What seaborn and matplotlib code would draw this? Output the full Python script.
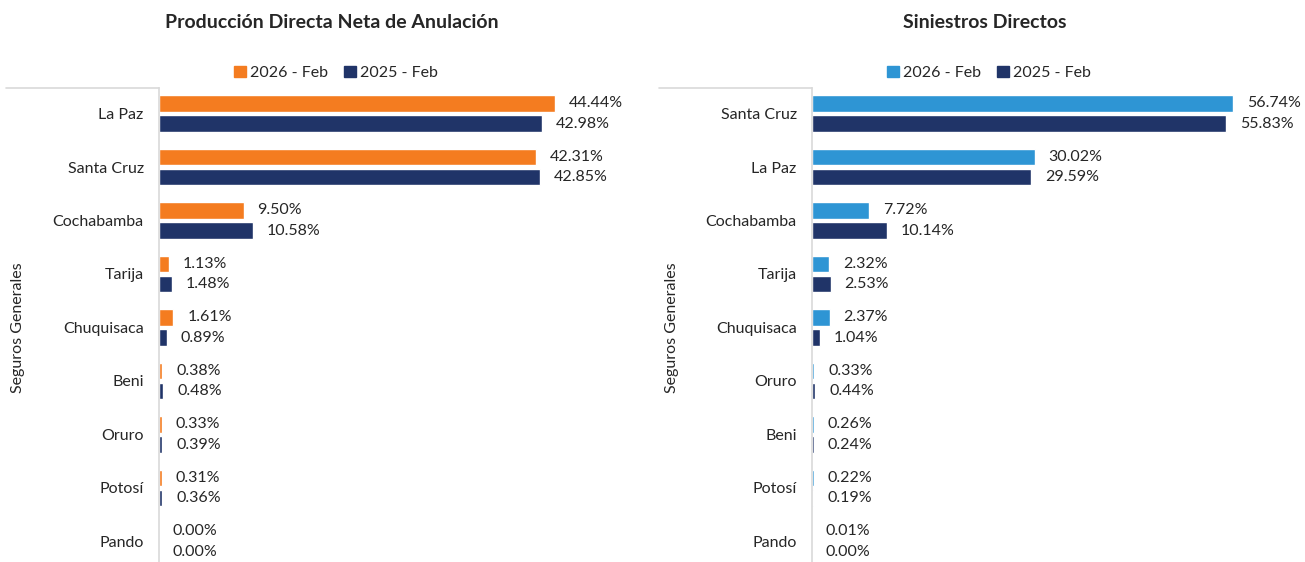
import pandas as pd
import matplotlib.pyplot as plt
import seaborn as sns
from matplotlib.lines import Line2D

# Producción Directa Neta de Anulación
prod_deptos = ["La Paz", "Santa Cruz", "Cochabamba", "Tarija", "Chuquisaca",
               "Beni", "Oruro", "Potosí", "Pando"]
prod_2026 = [44.44, 42.31, 9.50, 1.13, 1.61, 0.38, 0.33, 0.31, 0.00]
prod_2025 = [42.98, 42.85, 10.58, 1.48, 0.89, 0.48, 0.39, 0.36, 0.00]

# Siniestros Directos
sin_deptos = ["Santa Cruz", "La Paz", "Cochabamba", "Tarija", "Chuquisaca",
              "Oruro", "Beni", "Potosí", "Pando"]
sin_2026 = [56.74, 30.02, 7.72, 2.32, 2.37, 0.33, 0.26, 0.22, 0.01]
sin_2025 = [55.83, 29.59, 10.14, 2.53, 1.04, 0.44, 0.24, 0.19, 0.00]

series = ["2026 - Feb", "2025 - Feb"]
group_label = "Seguros Generales"

ORANGE = "#F47C20"
NAVY = "#203468"
BLUE = "#2E95D4"
AXIS_GRAY = "#D9D9D9"
TEXT = "#262626"
FS = 11.5

sns.set_style("white")
plt.rcParams["font.family"] = ["Lato", "DejaVu Sans"]


def long_df(deptos, v26, v25):
    rows = []
    for d, a, b in zip(deptos, v26, v25):
        rows.append({"depto": d, "serie": series[0], "valor": a})
        rows.append({"depto": d, "serie": series[1], "valor": b})
    return pd.DataFrame(rows)


W, H = 1305, 562
fig = plt.figure(figsize=(W / 100, H / 100), dpi=100)


def px_rect(x0, x1, y0, y1):
    return [x0 / W, 1 - y1 / H, (x1 - x0) / W, (y1 - y0) / H]


panels = [
    dict(title="Producción Directa Neta de Anulación", deptos=prod_deptos,
         v26=prod_2026, v25=prod_2025, c26=ORANGE, xmax=50,
         ax_x=(159, 604), title_x=332, legend_x=336, line_x0=6, group_x=18),
    dict(title="Siniestros Directos", deptos=sin_deptos,
         v26=sin_2026, v25=sin_2025, c26=BLUE, xmax=60,
         ax_x=(812, 1257), title_x=985, legend_x=989, line_x0=659, group_x=672),
]

top_px, bottom_px = 88, 562
row0, row_step = 113.5, 53.5

for p in panels:
    ax = fig.add_axes(px_rect(p["ax_x"][0], p["ax_x"][1], top_px, bottom_px))
    df = long_df(p["deptos"], p["v26"], p["v25"])
    sns.barplot(data=df, x="valor", y="depto", hue="serie", order=p["deptos"],
                hue_order=series, palette=[p["c26"], NAVY], orient="h",
                width=0.75, gap=0.17, ax=ax, legend=False, errorbar=None,
                saturation=1)
    for cont in ax.containers:
        ax.bar_label(cont, fmt="%.2f%%", padding=10, fontsize=FS, color=TEXT)

    ax.set_xlim(0, p["xmax"])
    ax.set_ylim((bottom_px - row0) / row_step, (top_px - row0) / row_step)
    ax.set_xlabel("")
    ax.set_ylabel("")
    ax.xaxis.set_visible(False)
    ax.tick_params(axis="y", length=0, pad=11, labelsize=FS, labelcolor=TEXT)
    for side in ["top", "right", "bottom"]:
        ax.spines[side].set_visible(False)
    ax.spines["left"].set_color(AXIS_GRAY)
    ax.spines["left"].set_linewidth(1.2)

    # multi-level category box line
    fig.add_artist(Line2D([p["line_x0"] / W, p["ax_x"][0] / W],
                          [1 - top_px / H, 1 - top_px / H],
                          color=AXIS_GRAY, linewidth=1.2))
    fig.text(p["group_x"] / W, 1 - 328 / H, group_label, rotation=90,
             ha="center", va="center", fontsize=FS, color=TEXT)

    fig.text(p["title_x"] / W, 1 - 22 / H, p["title"], ha="center",
             va="center", fontsize=14, fontweight="bold", color=TEXT)
    handles = [plt.Rectangle((0, 0), 1, 1, color=p["c26"]),
               plt.Rectangle((0, 0), 1, 1, color=NAVY)]
    fig.legend(handles, series, loc="center",
               bbox_to_anchor=(p["legend_x"] / W, 1 - 73 / H), ncol=2,
               frameon=False, fontsize=FS, handlelength=0.75,
               handleheight=0.75, handletextpad=0.25, columnspacing=1.0,
               labelcolor=TEXT)

fig.savefig("out.png", dpi=100)
